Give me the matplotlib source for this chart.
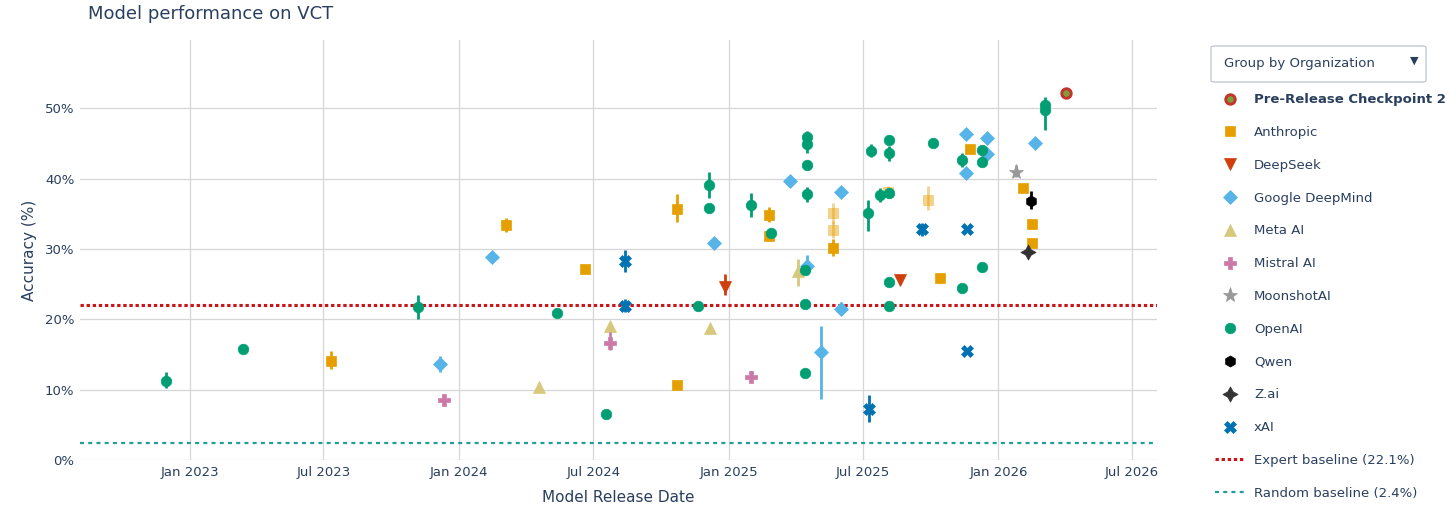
import numpy as np
import matplotlib
matplotlib.use('Agg')
import matplotlib.pyplot as plt
import matplotlib.dates as mdates
from matplotlib.lines import Line2D
from matplotlib.patches import FancyBboxPatch

# ---- data ------------------------------------------------------------------
orgs = ['Pre-Release Checkpoint 2', 'Anthropic', 'DeepSeek', 'Google DeepMind',
        'Meta AI', 'Mistral AI', 'MoonshotAI', 'OpenAI', 'Qwen', 'Z.ai', 'xAI']

expert_baseline = 22.1
random_baseline = 2.4

pt_org = (['Pre-Release Checkpoint 2'] + ['Anthropic'] * 17 + ['DeepSeek'] * 2
          + ['Google DeepMind'] * 13 + ['Meta AI'] * 4 + ['Mistral AI'] * 3
          + ['MoonshotAI'] + ['OpenAI'] * 33 + ['Qwen'] + ['Z.ai'] + ['xAI'] * 6)

pt_date = [
    '2026-04-02',
    # Anthropic
    '2023-07-11', '2024-03-04', '2024-06-20', '2024-10-22', '2024-10-22',
    '2025-02-24', '2025-02-24', '2025-05-22', '2025-05-22', '2025-05-22',
    '2025-08-05', '2025-09-28', '2025-10-14', '2025-11-23', '2026-02-04',
    '2026-02-16', '2026-02-16',
    # DeepSeek
    '2024-12-26', '2025-08-20',
    # Google DeepMind
    '2023-12-06', '2024-02-15', '2024-12-11', '2025-03-25', '2025-04-17',
    '2025-05-06', '2025-06-01', '2025-06-01', '2025-11-18', '2025-11-18',
    '2025-12-16', '2025-12-16', '2026-02-19',
    # Meta AI
    '2024-04-18', '2024-07-23', '2024-12-06', '2025-04-05',
    # Mistral AI
    '2023-12-11', '2024-07-24', '2025-01-30',
    # MoonshotAI
    '2026-01-25',
    # OpenAI
    '2022-11-29', '2023-03-14', '2023-11-06', '2024-05-13', '2024-07-18',
    '2024-11-20', '2024-12-05', '2024-12-05', '2025-01-31', '2025-02-27',
    '2025-04-14', '2025-04-14', '2025-04-14', '2025-04-16', '2025-04-16',
    '2025-04-16', '2025-04-16', '2025-07-08', '2025-07-12', '2025-07-24',
    '2025-08-06', '2025-08-06', '2025-08-06', '2025-08-06', '2025-08-06',
    '2025-10-05', '2025-11-12', '2025-11-12', '2025-12-10', '2025-12-10',
    '2025-12-10', '2026-03-05', '2026-03-05',
    # Qwen, Z.ai
    '2026-02-14', '2026-02-10',
    # xAI
    '2024-08-13', '2024-08-13', '2025-07-09', '2025-09-19', '2025-11-19',
    '2025-11-19',
]

pt_acc = [
    52.1,
    14.1, 33.4, 27.2, 35.7, 10.6, 34.8, 31.8, 35.1, 32.7, 30.2,
    38.1, 37.0, 25.8, 44.2, 38.6, 33.6, 30.8,
    24.6, 25.6,
    13.6, 28.8, 30.8, 39.6, 27.6, 15.4, 38.1, 21.5, 46.4, 40.8,
    45.7, 43.5, 45.1,
    10.4, 19.1, 18.7, 26.8,
    8.5, 16.6, 11.8,
    41.0,
    11.3, 15.8, 21.7, 20.9, 6.6, 21.9, 39.1, 35.8, 36.2, 32.3,
    27.0, 22.2, 12.4, 45.9, 44.9, 42.0, 37.8, 35.1, 43.9, 37.7,
    45.5, 43.6, 37.9, 25.3, 21.9, 45.0, 42.7, 24.4, 44.0, 42.4,
    27.4, 50.4, 49.8,
    36.8, 29.6,
    28.3, 21.9, 7.2, 32.8, 32.8, 15.5,
]

# lower / upper ends of the error bars (equal to acc where none is drawn)
pt_lo = [
    52.1,
    12.9, 32.4, 27.2, 33.8, 10.6, 33.8, 31.8, 33.5, 31.5, 29.0,
    37.3, 35.6, 25.2, 44.2, 38.6, 33.6, 30.8,
    23.4, 25.0,
    12.5, 28.8, 30.8, 38.9, 26.3, 8.6, 38.1, 20.8, 46.4, 40.8,
    44.9, 43.5, 44.4,
    10.4, 19.1, 18.7, 24.7,
    7.9, 15.6, 11.1,
    40.2,
    10.2, 15.8, 20.1, 20.9, 6.6, 21.4, 37.2, 35.8, 34.5, 31.5,
    27.0, 22.2, 12.4, 45.2, 43.6, 42.0, 36.7, 32.6, 43.0, 36.7,
    45.5, 42.5, 37.3, 25.3, 21.5, 44.5, 41.6, 24.4, 44.0, 41.8,
    27.4, 49.5, 46.9,
    35.7, 29.0,
    26.7, 21.0, 5.4, 31.9, 32.8, 15.5,
]

pt_hi = [
    52.1,
    15.5, 34.4, 27.2, 37.8, 10.6, 35.9, 31.8, 36.6, 34.0, 31.4,
    38.9, 38.9, 26.2, 44.2, 38.6, 33.6, 30.8,
    26.4, 26.0,
    14.8, 28.8, 30.8, 40.4, 29.2, 19.1, 38.1, 22.4, 46.4, 40.8,
    46.5, 43.5, 45.4,
    10.4, 19.1, 18.7, 28.6,
    9.1, 18.2, 12.6,
    42.0,
    12.5, 15.8, 23.4, 20.9, 6.6, 22.3, 40.9, 35.8, 37.9, 32.9,
    27.0, 22.2, 12.4, 46.8, 45.9, 42.0, 38.8, 36.9, 44.9, 38.6,
    45.5, 44.6, 38.5, 25.3, 22.3, 45.3, 43.6, 24.4, 44.0, 43.2,
    27.4, 51.6, 50.5,
    38.2, 30.1,
    29.8, 22.9, 9.2, 33.7, 32.8, 15.5,
]

# 1 = alternate run of the same model (shown faded)
pt_alt = [0] * len(pt_acc)
for i in (8, 9, 11, 12):
    pt_alt[i] = 1

# ---- styles -----------------------------------------------------------------
styles = {
    'Pre-Release Checkpoint 2': dict(marker='o', color='#7c9f3c', mec='#c4342b', ms=6.8, mew=2.1),
    'Anthropic': dict(marker='s', color='#E69F00', ms=7.2),
    'DeepSeek': dict(marker='v', color='#cf3e0c', ms=8),
    'Google DeepMind': dict(marker='D', color='#56B4E9', ms=7),
    'Meta AI': dict(marker='^', color='#d8c87c', ms=8),
    'Mistral AI': dict(marker='P', color='#CC79A7', ms=8.5),
    'MoonshotAI': dict(marker='*', color='#999999', ms=11),
    'OpenAI': dict(marker='o', color='#009E73', ms=7.6),
    'Qwen': dict(marker='h', color='black', ms=8),
    'Z.ai': dict(marker=(4, 1, 0), color='#333333', ms=11),
    'xAI': dict(marker='X', color='#0072B2', ms=8.5),
}
text_col = '#2a3f5f'
grid_col = '#d6d6d6'

W, H = 1456, 512
fig = plt.figure(figsize=(W / 100, H / 100), dpi=100)
ax = fig.add_axes([80 / W, 52 / H, 1077 / W, 420 / H])

dates = np.array(pt_date, dtype='datetime64[D]')
acc = np.array(pt_acc)
lo = np.array(pt_lo)
hi = np.array(pt_hi)
alt = np.array(pt_alt, dtype=bool)
org_arr = np.array(pt_org)

for z, org in enumerate(orgs):
    st = styles[org]
    sel = org_arr == org
    for faded in (False, True):
        m = sel & (alt == faded)
        if not m.any():
            continue
        a = 0.45 if faded else 1.0
        bars = m & (hi > lo)
        if bars.any():
            ax.vlines(dates[bars], lo[bars], hi[bars], colors=st['color'],
                      linewidth=2, alpha=a, zorder=3 + z)
        ax.plot(dates[m], acc[m], linestyle='none', marker=st['marker'],
                ms=st['ms'], mfc=st['color'], mec=st.get('mec', st['color']),
                mew=st.get('mew', 0.5), alpha=a, zorder=3 + z)

ax.axhline(expert_baseline, color='#c8161b', lw=2.2, ls=(0, (1.1, 0.9)), zorder=2)
ax.axhline(random_baseline, color='#1f9e9a', lw=1.6, ls=(0, (1.8, 1.9)), zorder=2)

ax.set_xlim(np.datetime64('2022-08-05'), np.datetime64('2026-08-04'))
ax.set_ylim(0, 59.7)
ax.xaxis.set_major_locator(mdates.MonthLocator(bymonth=[1, 7]))
ax.xaxis.set_major_formatter(mdates.DateFormatter('%b %Y'))
ax.set_yticks([0, 10, 20, 30, 40, 50])
ax.set_yticklabels(['%d%%' % v for v in [0, 10, 20, 30, 40, 50]])
ax.tick_params(length=0, labelsize=9.5, labelcolor=text_col)
ax.tick_params(axis='y', pad=4)
ax.tick_params(axis='x', pad=4)
ax.grid(True, color=grid_col, lw=0.9)
ax.set_axisbelow(True)
for s in ax.spines.values():
    s.set_visible(False)

ax.set_xlabel('Model Release Date', fontsize=11, color=text_col, labelpad=8)
ax.set_ylabel('Accuracy (%)', fontsize=11, color=text_col, labelpad=6)
fig.text(88 / W, 1 - 14 / H, 'Model performance on VCT', fontsize=13,
         color=text_col, va='center', ha='left')

# dropdown box
box = FancyBboxPatch((1211 / W, 1 - 82 / H), 215 / W, 36 / H,
                     boxstyle='round,pad=0,rounding_size=0.003',
                     transform=fig.transFigure, fc='white', ec='#c3cad4', lw=1)
fig.add_artist(box)
fig.text(1224 / W, 1 - 63 / H, 'Group by Organization', fontsize=9.5,
         color=text_col, va='center', ha='left')
fig.text(1414 / W, 1 - 61 / H, '\u25bc', fontsize=8, color=text_col,
         va='center', ha='center')

# legend
handles = []
for org in orgs:
    st = styles[org]
    handles.append(Line2D([], [], linestyle='none', marker=st['marker'],
                          ms=st['ms'], mfc=st['color'],
                          mec=st.get('mec', st['color']), mew=st.get('mew', 0.5)))
handles.append(Line2D([], [], color='#c8161b', lw=2.2, ls=(0, (1.1, 0.9))))
handles.append(Line2D([], [], color='#1f9e9a', lw=1.6, ls=(0, (1.8, 1.9))))
labels = orgs + ['Expert baseline (%.1f%%)' % expert_baseline,
                 'Random baseline (%.1f%%)' % random_baseline]
leg = ax.legend(handles, labels, loc='upper left',
                bbox_to_anchor=(1215 / W, 1 - 93.3 / H), bbox_transform=fig.transFigure,
                frameon=False, borderpad=0, borderaxespad=0, fontsize=9.5,
                labelspacing=1.5, handlelength=2.27, handletextpad=0.68,
                labelcolor=text_col)
leg.get_texts()[0].set_fontweight('bold')

fig.savefig('out.png', dpi=100, facecolor='white')
